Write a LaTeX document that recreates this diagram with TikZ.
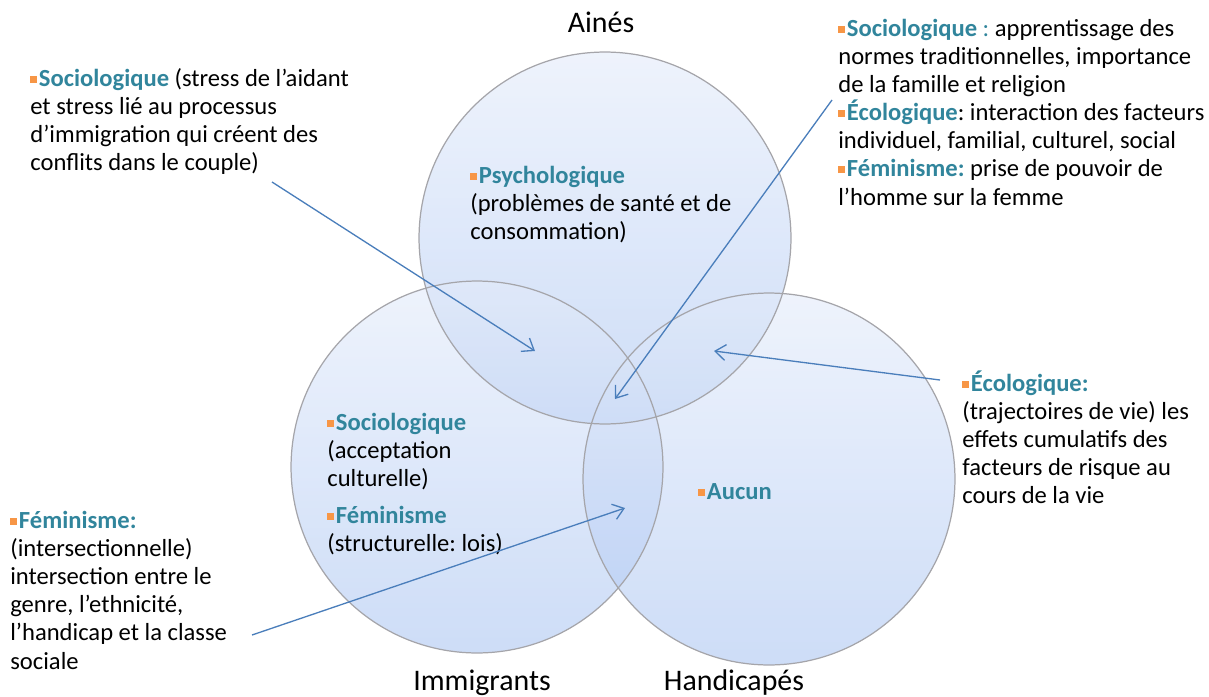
\documentclass[tikz,border=0pt]{standalone}
\usepackage{fontspec}
\setmainfont{Carlito}
\frenchspacing
\usetikzlibrary{positioning,arrows.meta}
\definecolor{titleteal}{RGB}{49,133,156}
\definecolor{bulletorange}{RGB}{247,150,70}
\definecolor{arrowblue}{RGB}{74,126,187}
\definecolor{ringgray}{RGB}{165,165,170}
\definecolor{fillpale}{RGB}{227,235,250}
\definecolor{fillblue}{RGB}{172,198,242}
% bullet square, with a strut so that every block top sits at the same height
\newcommand{\bul}{\rule{0pt}{12pt}{\color{bulletorange}\rule[2.2pt]{3.6pt}{3.8pt}}\hspace{1.3pt}}
\newcommand{\tbold}[1]{{\color{titleteal}\bfseries #1}}

\begin{document}
\begin{tikzpicture}[x=0.02cm, y=-0.02cm,
    txt/.style={anchor=north west, inner sep=0pt, align=left, font=\fontsize{14}{16}\selectfont},
    lbl/.style={anchor=base, inner sep=0pt, font=\fontsize{17}{20}\selectfont},
    ring/.style={top color=fillpale, bottom color=fillblue, fill opacity=0.6},
    link/.style={draw=arrowblue, line width=0.75pt, -{Straight Barb[length=6pt,width=9pt]}}]
    \useasboundingbox (0,0) rectangle (1209,696);

    % Circles (fill first, then the rims)
    \foreach \cx/\cy in {605/238, 477/467, 769/479}
        \shade[ring] (\cx,\cy) circle[radius=3.72cm];
    \foreach \cx/\cy in {605/238, 477/467, 769/479}
        \draw[ringgray, line width=0.7pt] (\cx,\cy) circle[radius=3.72cm];

    % Group labels
    \node[lbl] (aines) at (601,33) {Ainés};
    \node[lbl] (immigrants) at (482,690) {Immigrants};
    \node[lbl] (handicapes) at (734,690) {Handicapés};

    % Inside the circles
    \node[txt] (psycho) at (470,162) {\bul\tbold{Psychologique}\\(problèmes de santé et de\\consommation)};
    \node[txt] (immtxt) at (327,409) {\bul\tbold{Sociologique}\\(acceptation\\culturelle)\\[5pt]\bul\tbold{Féminisme}\\(structurelle: lois)};
    \node[txt] (aucun) at (698,478) {\bul\tbold{Aucun}};

    % Outside notes
    \node[txt] (socio) at (30,65) {\bul\tbold{Sociologique} (stress de l’aidant\\et stress lié au processus\\d’immigration qui créent des\\conflits dans le couple)};
    \node[txt] (trois) at (838,15) {\bul\tbold{Sociologique} {\color{titleteal}:} apprentissage des\\normes traditionnelles, importance\\de la famille et religion\\\bul\tbold{Écologique}: interaction des facteurs\\individuel, familial, culturel, social\\\bul\tbold{Féminisme:} prise de pouvoir de\\l’homme sur la femme};
    \node[txt] (ecolo) at (962,370) {\bul\tbold{Écologique:}\\(trajectoires de vie) les\\effets cumulatifs des\\facteurs de risque au\\cours de la vie};
    \node[txt] (femi) at (10,507) {\bul\tbold{Féminisme:}\\(intersectionnelle)\\intersection entre le\\genre, l’ethnicité,\\l’handicap et la classe\\sociale};

    % Arrows
    \coordinate (socio start) at (272,182);
    \coordinate (socio end) at (535,351);
    \coordinate (trois start) at (832,100);
    \coordinate (trois end) at (615,399);
    \coordinate (ecolo start) at (940,380);
    \coordinate (ecolo end) at (714,351);
    \coordinate (femi start) at (252,635);
    \coordinate (femi end) at (625,508);
    \draw[link] (socio start) -- (socio end);
    \draw[link] (trois start) -- (trois end);
    \draw[link] (ecolo start) -- (ecolo end);
    \draw[link] (femi start) -- (femi end);
\end{tikzpicture}
\end{document}
